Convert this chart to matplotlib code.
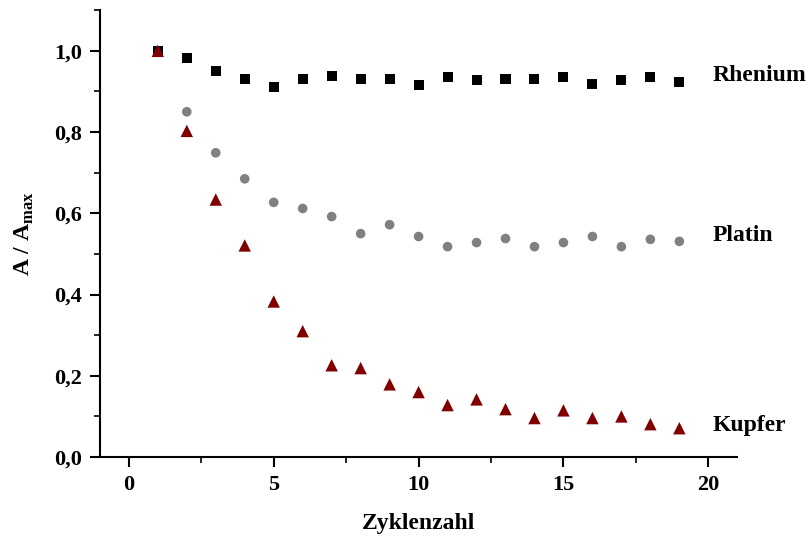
import matplotlib
matplotlib.use("Agg")
import matplotlib.pyplot as plt
from matplotlib.ticker import MultipleLocator, FuncFormatter

plt.rcParams['font.family'] = ['Liberation Serif', 'DejaVu Serif']
plt.rcParams['font.weight'] = 'bold'

# Zyklen
zyklen = list(range(1, 20))

# A / Amax values
rhenium = [1.000, 0.983, 0.951, 0.931, 0.912, 0.931, 0.939, 0.931, 0.931, 0.916,
           0.936, 0.929, 0.931, 0.931, 0.936, 0.919, 0.929, 0.936, 0.924]
platin = [1.000, 0.850, 0.749, 0.685, 0.627, 0.612, 0.592, 0.550, 0.572, 0.543,
          0.518, 0.528, 0.538, 0.518, 0.528, 0.543, 0.518, 0.536, 0.531]
kupfer = [1.000, 0.803, 0.634, 0.521, 0.383, 0.310, 0.226, 0.219, 0.179, 0.160,
          0.128, 0.142, 0.118, 0.096, 0.115, 0.096, 0.100, 0.081, 0.071]

labels = ["Rhenium", "Platin", "Kupfer"]
label_y = [0.94, 0.545, 0.077]

fig = plt.figure(figsize=(8.12, 5.39), dpi=100)
ax = fig.add_axes([0.123, 0.152, 0.785, 0.829])

# Platin first so it sits under the others at cycle 1
ax.scatter(zyklen, platin, marker="o", s=48, color="#808080", edgecolors="none", zorder=3)
ax.scatter(zyklen, rhenium, marker="s", s=52, color="black", edgecolors="none", zorder=4)
ax.scatter(zyklen, kupfer, marker="^", s=80, color="#800000", edgecolors="none", zorder=5)

for name, yy in zip(labels, label_y):
    ax.text(20.15, yy, name, fontsize=17, fontweight="bold", va="center", ha="left",
            clip_on=False)

ax.set_xlim(-1, 21)
ax.set_ylim(0, 1.1)
ax.xaxis.set_major_locator(MultipleLocator(5))
ax.xaxis.set_minor_locator(MultipleLocator(2.5))
ax.yaxis.set_major_locator(MultipleLocator(0.2))
ax.yaxis.set_minor_locator(MultipleLocator(0.1))
ax.yaxis.set_major_formatter(FuncFormatter(lambda v, p: f"{v:.1f}".replace(".", ",")))

for s in ["top", "right"]:
    ax.spines[s].set_visible(False)
for s in ["left", "bottom"]:
    ax.spines[s].set_linewidth(1.5)

ax.tick_params(which="major", direction="out", length=7, width=1.5, labelsize=16, pad=6)
ax.tick_params(which="minor", direction="out", length=4, width=1.2)
for lbl in ax.get_xticklabels() + ax.get_yticklabels():
    lbl.set_fontweight("bold")

ax.set_xlabel("Zyklenzahl", fontsize=17, fontweight="bold", labelpad=13)
ax.set_ylabel(r"A / A$_\mathregular{max}$", fontsize=17, fontweight="bold", labelpad=13)

fig.savefig("out.png", dpi=100)
